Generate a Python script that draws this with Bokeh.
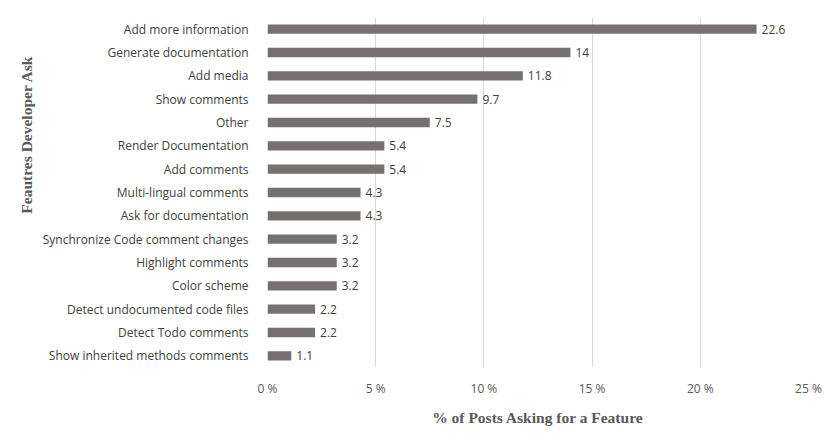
from bokeh.plotting import figure
from bokeh.models import FixedTicker, ColumnDataSource, Title
from bokeh.core.properties import value
from bokeh.embed import file_html
from bokeh.resources import INLINE

features = [
    "Add more information",
    "Generate documentation",
    "Add media",
    "Show comments",
    "Other",
    "Render Documentation",
    "Add comments",
    "Multi-lingual comments",
    "Ask for documentation",
    "Synchronize Code comment changes",
    "Highlight comments",
    "Color scheme",
    "Detect undocumented code files",
    "Detect Todo comments",
    "Show inherited methods comments",
]
percent = [22.6, 14, 11.8, 9.7, 7.5, 5.4, 5.4, 4.3, 4.3, 3.2, 3.2, 3.2, 2.2, 2.2, 1.1]
x_ticks = [0, 5, 10, 15, 20, 25]
x_tick_labels = ["0 %", "5 %", "10 %", "15 %", "20 %", "25 %"]
x_title = "% of Posts Asking for a Feature"
y_title = "Feautres Developer Ask"

src = ColumnDataSource(dict(
    feature=features,
    pct=percent,
    label=[f"{v:g}" for v in percent],
))

p = figure(
    width=830, height=440,
    y_range=list(reversed(features)), x_range=(0, 25),
    output_backend="svg", toolbar_location=None,
    min_border_left=267, min_border_right=22,
    min_border_top=17, min_border_bottom=73,
)
p.y_range.range_padding = 0
p.outline_line_color = None
p.background_fill_color = "white"

p.hbar(y="feature", right="pct", left=0, height=0.40, source=src,
       fill_color="#767171", line_color=None)
p.text(x="pct", y="feature", text="label", source=src, x_offset=5,
       text_baseline="middle", text_align="left", text_font_size="12px",
       text_color="#404040", text_font=value("Open Sans"))

p.ygrid.grid_line_color = None
p.xgrid.grid_line_color = "#d9d9d9"
p.xgrid.ticker = FixedTicker(ticks=x_ticks)

xa = p.xaxis[0]
xa.ticker = FixedTicker(ticks=x_ticks)
xa.major_label_overrides = dict(zip(x_ticks, x_tick_labels))
xa.axis_line_color = None
xa.major_tick_line_color = None
xa.minor_tick_line_color = None
xa.major_label_text_font = "Open Sans"
xa.major_label_text_font_size = "12px"
xa.major_label_text_color = "#595959"
xa.major_label_standoff = 6
xa.axis_label = x_title
xa.axis_label_text_font = "Liberation Serif"
xa.axis_label_text_font_style = "bold"
xa.axis_label_text_font_size = "15.5px"
xa.axis_label_text_color = "#595959"
xa.axis_label_standoff = 9

ya = p.yaxis[0]
ya.axis_line_color = None
ya.major_tick_line_color = None
ya.minor_tick_line_color = None
ya.major_label_text_font = "Open Sans"
ya.major_label_text_font_size = "12px"
ya.major_label_text_color = "#404040"
ya.major_label_standoff = 13

# y-axis title, placed (as in the reference) above the vertical centre
p.add_layout(Title(
    text=y_title, align="right", offset=38, standoff=9,
    text_font="Liberation Serif", text_font_style="bold",
    text_font_size="15.5px", text_color="#595959",
), "left")

open("out.html", "w").write(file_html(p, INLINE))
